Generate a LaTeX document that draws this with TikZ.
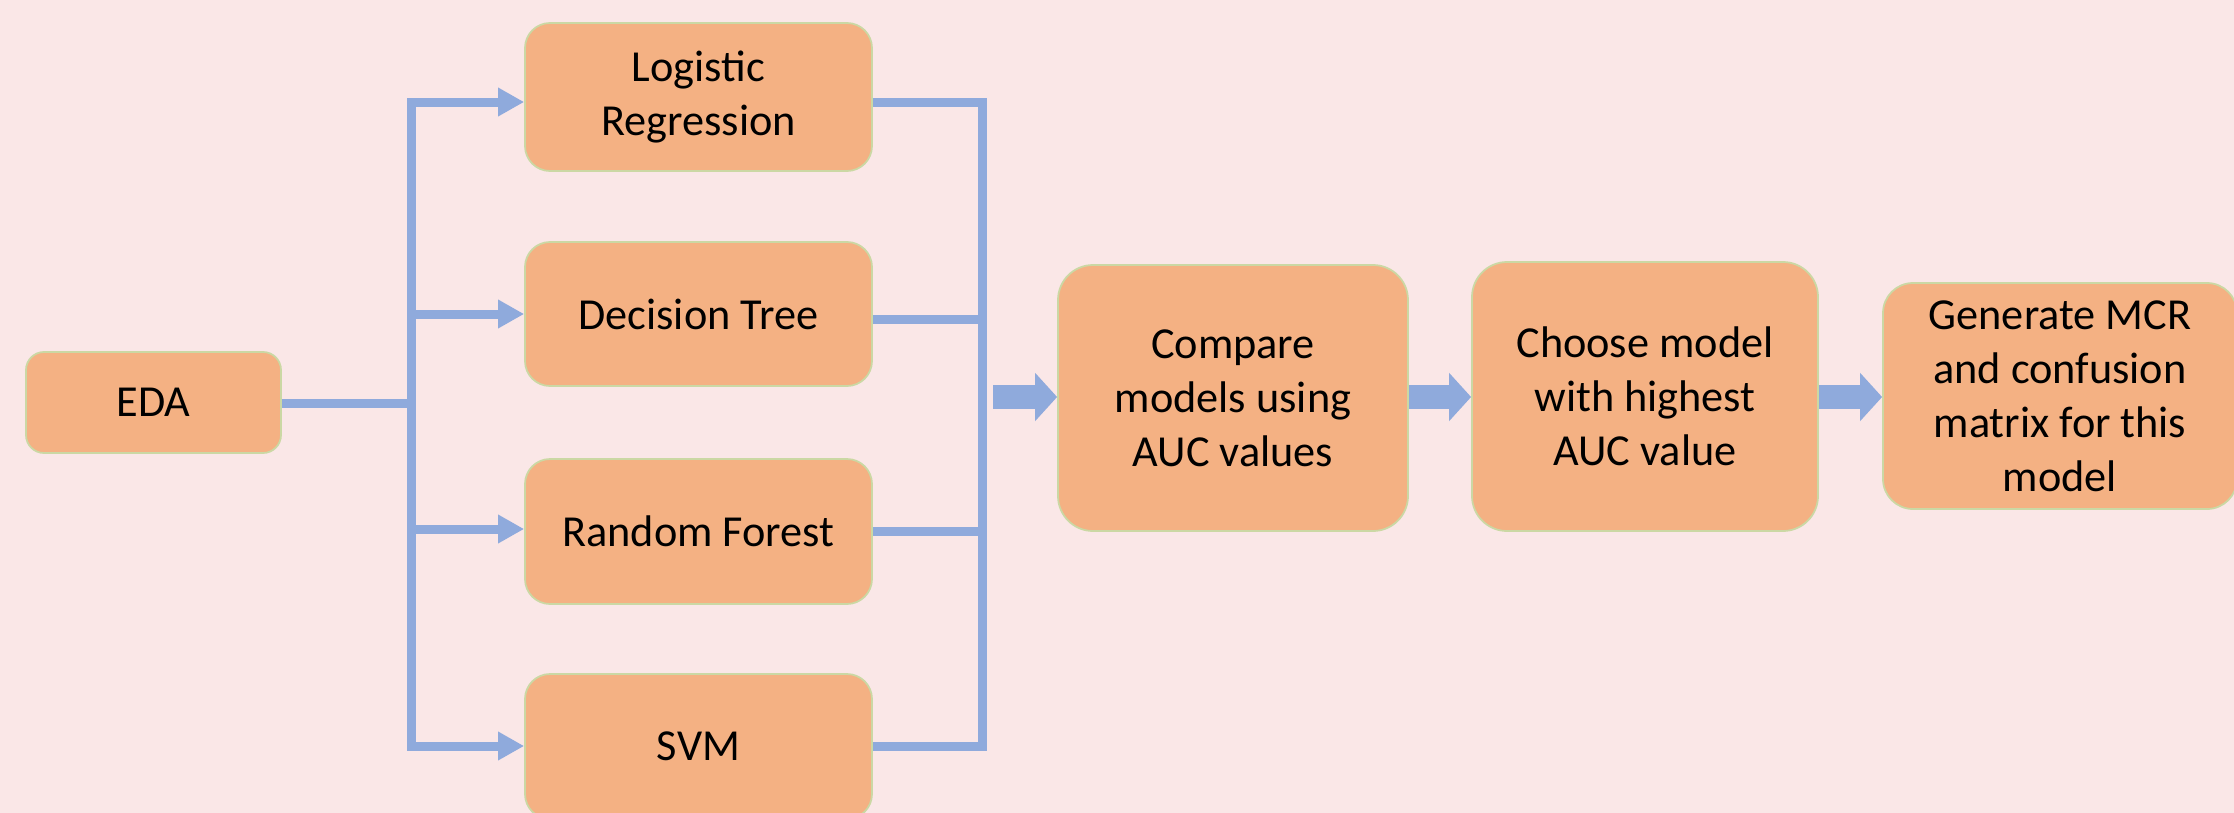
\documentclass[tikz,border=0pt]{standalone}
\usepackage{fontspec}
\setmainfont{Carlito}
\usetikzlibrary{arrows.meta}
\definecolor{bgc}{HTML}{FAE7E7}
\definecolor{boxfill}{HTML}{F4B183}
\definecolor{boxline}{HTML}{CBD8A4}
\definecolor{conn}{HTML}{8FAADC}
\begin{document}
\begin{tikzpicture}[x=0.1mm,y=-0.1mm,
  box/.style={draw=boxline, line width=0.5pt, fill=boxfill, rounded corners=#1,
    inner sep=0pt, align=center, text=black,
    font=\fontsize{12.6}{15.4}\selectfont},
  box/.default=2.5mm,
  thinline/.style={draw=conn, line width=0.9mm, line join=miter},
  thinarr/.style={thinline, -{Triangle[length=2.6mm,width=2.7mm]}},
  bigarr/.style={draw=conn, line width=2.4mm, -{Triangle[length=2.2mm,width=4.7mm]}}
]
\useasboundingbox (0,0) rectangle (2234,813);
\fill[bgc] (0,0) rectangle (2234,813);
\clip (0,0) rectangle (2234,813);

% nodes
\node[box=1.8mm, minimum width=25.5mm, minimum height=10.1mm] (eda) at (153.5,402.5) {EDA};
\node[box, minimum width=34.7mm, minimum height=14.8mm] (lr) at (698.5,97) {Logistic\\Regression};
\node[box, minimum width=34.7mm, minimum height=14.4mm] (dt) at (698.5,314) {Decision Tree};
\node[box, minimum width=34.7mm, minimum height=14.5mm] (rf) at (698.5,531.5) {Random Forest};
\node[box, minimum width=34.7mm, minimum height=14.5mm] (svm) at (698.5,746.5) {SVM};
\node[box=3.5mm, minimum width=35mm, minimum height=26.6mm] (cmp) at (1233,398) {Compare\\models using\\AUC values};
\node[box=3.5mm, minimum width=34.6mm, minimum height=26.9mm] (cho) at (1645,396.5) {Choose model\\with highest\\AUC value};
\node[box=3mm, minimum width=35.4mm, minimum height=22.6mm] (gen) at (2060,396) {Generate MCR\\and confusion\\matrix for this\\model};

% junction coordinates
\coordinate (lt) at (411,102);
\coordinate (lb) at (411,746);
\coordinate (je) at (411,403);
\coordinate (jd) at (411,314);
\coordinate (jr) at (411,529);
\coordinate (rt) at (982,102);
\coordinate (rb) at (982,746);
\coordinate (rd) at (982,319);
\coordinate (rr) at (982,531);
\coordinate (a1) at (993,397);

% left fan-out
\draw[thinline] (eda.east |- je) -- (je);
\draw[thinline, {Triangle[length=2.6mm,width=2.7mm]}-{Triangle[length=2.6mm,width=2.7mm]}]
  (lr.west |- lt) -- (lt) -- (lb) -- (svm.west |- lb);
\draw[thinarr] (jd) -- (dt.west |- jd);
\draw[thinarr] (jr) -- (rf.west |- jr);

% right fan-in
\draw[thinline] (lr.east |- rt) -- (rt) -- (rb) -- (svm.east |- rb);
\draw[thinline] (dt.east |- rd) -- (rd);
\draw[thinline] (rf.east |- rr) -- (rr);

% big arrows
\draw[bigarr] (a1) -- (cmp.west |- a1);
\draw[bigarr] (cmp.east |- a1) -- (cho.west |- a1);
\draw[bigarr] (cho.east |- a1) -- (gen.west |- a1);
\end{tikzpicture}
\end{document}
